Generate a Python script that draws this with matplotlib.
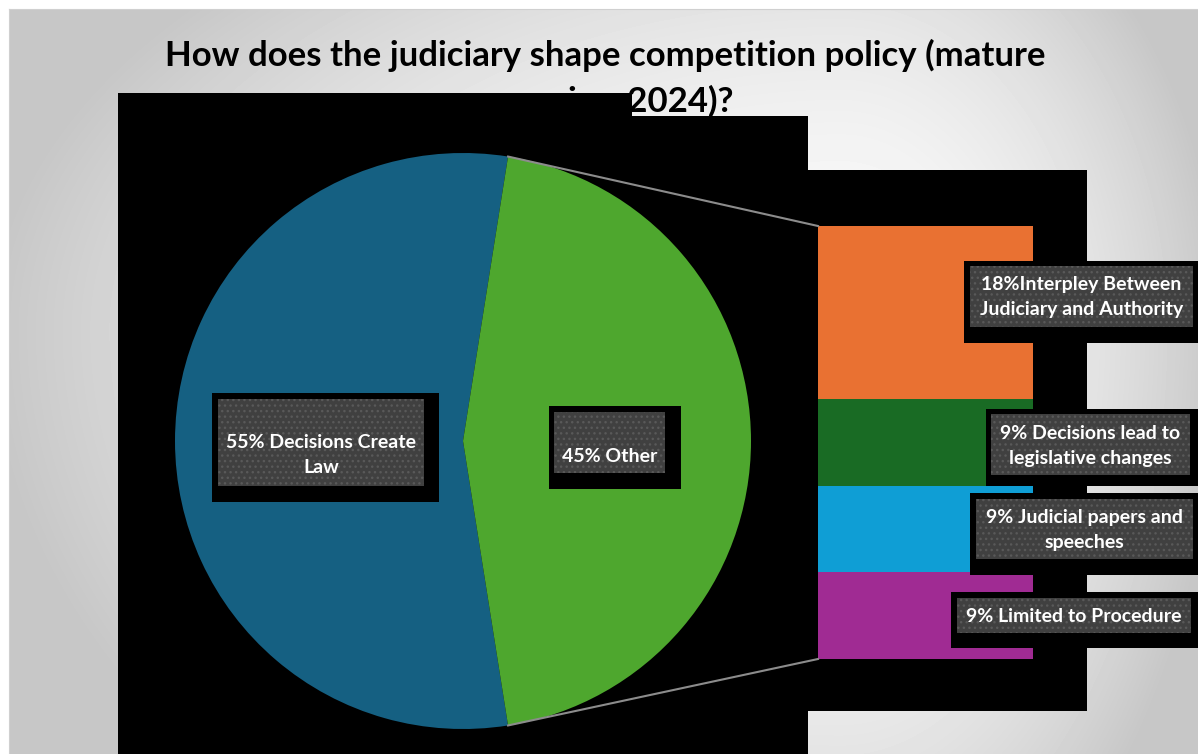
import numpy as np
import matplotlib.pyplot as plt
from matplotlib.patches import Rectangle

plt.rcParams['font.family'] = ['Lato', 'DejaVu Sans']
plt.rcParams['hatch.linewidth'] = 1.0

title_lines = ["How does the judiciary shape competition policy (mature",
               "agencies, 2024)?"]

# main pie: decisions create law vs the "other" group split out in the bar
pie_values = [55, 45]
pie_colors = ["#156082", "#4EA72E"]
pie_labels = ["55% Decisions Create\nLaw", "45% Other"]

# breakdown of "other", top to bottom
bar_values = [18, 9, 9, 9]
bar_colors = ["#E97132", "#196B24", "#0F9ED5", "#A02B93"]
bar_labels = ["18%Interpley Between\nJudiciary and Authority",
              "9% Decisions lead to\nlegislative changes",
              "9% Judicial papers and\nspeeches",
              "9% Limited to Procedure"]

W, H = 1198, 754
fig = plt.figure(figsize=(W / 100, H / 100), dpi=100)
ax = fig.add_axes([0, 0, 1, 1])

# grey backdrop that lightens toward the upper middle
xx, yy = np.meshgrid(np.arange(9, W), np.arange(9, H))
cx, cy = 840, 330
dx = (xx - cx) / np.where(xx < cx, 850, 380)
dy = (yy - cy) / np.where(yy < cy, 500, 650)
d = np.clip(np.hypot(dx, dy), 0, 1)
shade = 0.98 - 0.20 * d ** 2
ax.imshow(shade, cmap="gray", vmin=0, vmax=1, extent=(9, W, H, 9),
          interpolation="bilinear", zorder=0)
ax.plot([9, W], [9, 9], color="#d0d0d0", lw=0.8, zorder=0.5)
ax.plot([9, 9], [9, H], color="#d0d0d0", lw=0.8, zorder=0.5)

for ty, line in zip([55, 101], title_lines):
    ax.text(605, ty, line, ha="center", va="center", fontsize=25,
            fontweight="bold", color="black", zorder=1)

# black panels behind the chart
for x0, y0, x1, y1 in [(118, 93, 632, H), (632, 116, 808, H), (808, 170, 1087, 711)]:
    ax.add_patch(Rectangle((x0, y0), x1 - x0, y1 - y0, color="black", lw=0, zorder=2))

# pie, "other" slice centred on the right
pc, pr = (463, 441), 288
ax.pie(pie_values, colors=pie_colors, startangle=81, center=pc, radius=pr,
       frame=True, wedgeprops=dict(linewidth=0, zorder=3))

# stacked bar of the "other" slice
bx, bw, btop = 818, 215, 226
scale = 433 / sum(bar_values)
bottoms = btop + np.concatenate([[0], np.cumsum(bar_values)[:-1]]) * scale
ax.bar(bx + bw / 2, np.array(bar_values) * scale, width=bw, bottom=bottoms,
       color=bar_colors, linewidth=0, zorder=3)

# connector lines from the split points to the bar corners
edge = np.deg2rad(90 - pie_values[1] / 100 * 180)
sx = pc[0] + pr * np.sin(edge)
ax.plot([sx, bx], [pc[1] - pr * np.cos(edge), btop], color="#8c8c8c", lw=1.5, zorder=3)
ax.plot([sx, bx], [pc[1] + pr * np.cos(edge), btop + sum(bar_values) * scale],
        color="#8c8c8c", lw=1.5, zorder=3)

# data labels: black shadow, dotted dark box, white text
boxes = [((212, 393, 439, 502), (218, 399, 424, 486), 455),
         ((549, 406, 681, 489), (554, 412, 665, 473), 456),
         ((964, 261, W, 343), (970, 266, 1193, 327), 297),
         ((986, 409, W, 486), (991, 414, 1190, 475), 446),
         ((970, 493, W, 575), (976, 499, 1193, 559), 530),
         ((951, 592, W, 648), (957, 598, 1191, 633), 616)]
for (outer, inner, ty), text in zip(boxes, pie_labels + bar_labels):
    x0, y0, x1, y1 = outer
    ax.add_patch(Rectangle((x0, y0), x1 - x0, y1 - y0, color="black", lw=0, zorder=4))
    x0, y0, x1, y1 = inner
    ax.add_patch(Rectangle((x0, y0), x1 - x0, y1 - y0, facecolor="#404040",
                           edgecolor="#595959", hatch="...", lw=0, zorder=5))
    ax.text((x0 + x1) / 2, ty, text, ha="center", va="center",
            fontsize=14, fontweight="bold", color="white", linespacing=1.6, zorder=6)

ax.set_xlim(0, W)
ax.set_ylim(H, 0)
ax.set_aspect("auto")
ax.axis("off")
fig.savefig("out.png", dpi=100, facecolor="white")
